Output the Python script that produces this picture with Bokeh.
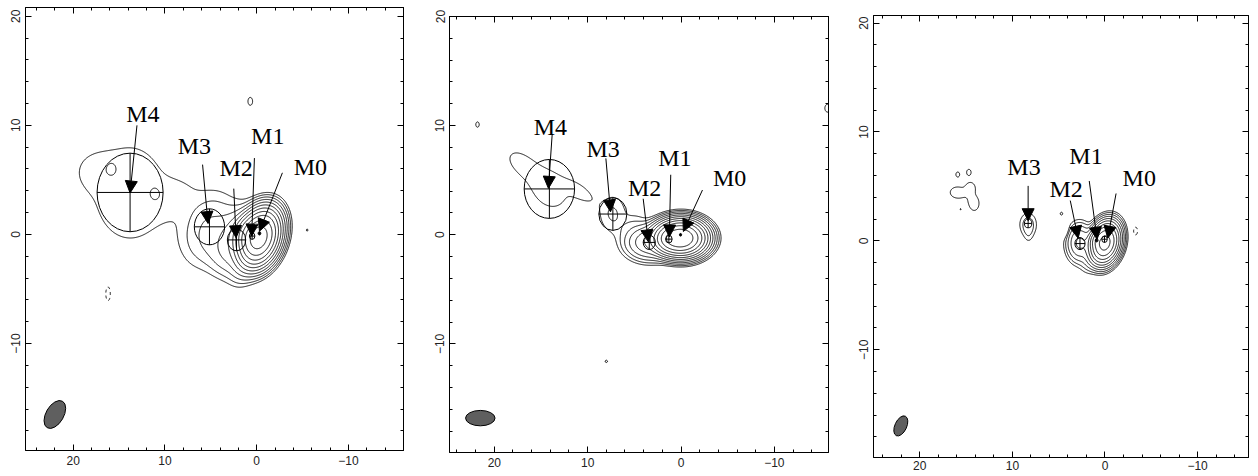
import numpy as np
from bokeh.plotting import figure
from bokeh.layouts import row
from bokeh.models import (Range1d, LinearAxis, SingleIntervalTicker, CustomLabelingPolicy,
                          CustomJSTickFormatter, Arrow, NormalHead, ColumnDataSource)
from bokeh.core.properties import value
from bokeh.embed import file_html
from bokeh.resources import INLINE

# ---------------------------------------------------------------------------
# Emission model of each epoch: elliptical Gaussian blobs (offsets in mas)
# tilt = position of major axis, degrees clockwise from north on the sky plot
# ---------------------------------------------------------------------------
ep1_blob_x = [-0.3, 0.6, 2.2, 5.2, 4.0, 1.2, 13.8, 17.8, 8.8, 15.8, 11.1, 0.7, -5.5, 16.2]
ep1_blob_y = [-0.3, -0.1, -0.6, 0.5, -1.8, -2.5, 3.8, 5.8, 3.4, 6.1, 3.8, 12.2, 0.4, -5.4]
ep1_blob_amp = [1500, 200, 14, 4.3, 1.7, 6.0, 1.7, 0.9, 0.9, 0.75, 0.75, 1.3, 1.05, -1.4]
ep1_blob_smaj = [1.15, 0.8, 1.6, 2.1, 1.6, 1.2, 4.0, 1.5, 1.8, 0.5, 0.5, 0.5, 0.3, 0.9]
ep1_blob_smin = [0.85, 0.8, 1.2, 1.6, 1.0, 0.8, 3.6, 1.2, 1.2, 0.45, 0.45, 0.35, 0.3, 0.35]
ep1_blob_tilt = [30, 0, 30, 30, -60, 30, 0, 90, 70, 0, 0, 0, 0, 0]

ep2_blob_x = [0.0, 1.3, 3.4, 5.3, 7.3, 14.1, 17.5, 10.5, 21.8, 8.0, -15.7]
ep2_blob_y = [-0.3, -0.4, -0.7, 1.0, 1.9, 4.2, 6.8, 3.8, 10.1, -11.6, 11.6]
ep2_blob_amp = [2000, 300, 30, 1.2, 2.2, 1.35, 1.0, 1.05, 1.2, 1.1, 1.3]
ep2_blob_smaj = [1.1, 0.8, 1.3, 1.0, 1.2, 2.4, 1.6, 1.3, 0.4, 0.3, 0.5]
ep2_blob_smin = [0.68, 0.6, 0.8, 0.6, 1.0, 1.9, 1.0, 0.55, 0.3, 0.25, 0.4]
ep2_blob_tilt = [90, 90, 90, 60, 0, -57, -60, -60, 0, 90, 0]

ep3_blob_x = [0.0, 0.9, 2.75, 1.5, 8.3, 8.25, 15.9, 14.7, 16.1, 14.5, 14.1, 15.0, 15.6,
              4.7, -8.3, 4.2, -3.3, 3.1]
ep3_blob_y = [-0.2, 0.0, -0.2, -1.5, 1.5, 0.6, 6.1, 6.3, 4.45, 4.9, 3.4, 4.3, 2.9,
              2.5, -3.3, 0.9, 0.9, 2.7]
ep3_blob_amp = [700, 60, 18, 3.5, 3.0, 1.0, 1.35, 1.4, 1.55, 1.45, 1.55, 0.7, 1.02,
                1.15, 1.02, -1.3, -1.3, -1.1]
ep3_blob_smaj = [0.85, 0.4, 0.9, 0.85, 0.7, 0.6, 0.28, 0.32, 0.6, 0.4, 0.6, 0.8, 0.12,
                 0.25, 0.12, 0.5, 0.5, 0.2]
ep3_blob_smin = [0.65, 0.4, 0.72, 0.55, 0.6, 0.35, 0.25, 0.28, 0.42, 0.4, 0.48, 0.8, 0.12,
                 0.25, 0.12, 0.3, 0.3, 0.2]
ep3_blob_tilt = [25, 0, 0, 25, 0, 0, 0, 0, 90, 0, 0, 0, 0, 0, 0, 0, 0, 0]

# Contour levels (multiples of the lowest level), positive and negative
pos_levels = [1, 2, 4, 8, 16, 32, 64, 128, 256, 512, 1024]
neg_levels = [-1]

# Restoring beams: centre, FWHM minor / major, tilt (deg)
beam_x = [22.0, 21.5, 22.05]
beam_y = [-16.5, -16.8, -17.0]
beam_minor = [1.93, 1.65, 1.27]
beam_major = [2.8, 2.7, 1.97]
beam_tilt = [30, 90, 25]

# Model-fit components: label, centre, radius
ep1_comp = ["M4", "M3", "M2", "M1", "M0"]
ep1_comp_x = [13.8, 5.15, 2.2, 0.5, -0.3]
ep1_comp_y = [3.85, 0.7, -0.5, -0.15, 0.1]
ep1_comp_r = [3.6, 1.65, 1.0, 0.3, 0.15]

ep2_comp = ["M4", "M3", "M2", "M1", "M0"]
ep2_comp_x = [14.1, 7.3, 3.4, 1.3, 0.05]
ep2_comp_y = [4.2, 1.9, -0.7, -0.4, 0.0]
ep2_comp_r = [2.7, 1.5, 0.65, 0.35, 0.12]

ep3_comp = ["M3", "M2", "M1", "M0"]
ep3_comp_x = [8.3, 2.7, 0.9, 0.05]
ep3_comp_y = [1.6, -0.25, 0.05, 0.15]
ep3_comp_r = [0.4, 0.55, 0.15, 0.3]

# Label positions and arrow tails / heads for each component
ep1_label_x = [12.4, 6.8, 2.25, -1.2, -5.85]
ep1_label_y = [11.0, 8.1, 6.1, 9.0, 6.2]
ep1_tail_x = [13.05, 5.9, 2.5, 0.25, -2.8]
ep1_tail_y = [10.0, 6.4, 4.2, 7.0, 5.65]
ep1_head_x = [13.8, 5.3, 2.25, 0.55, -0.3]
ep1_head_y = [3.8, 1.0, -0.3, -0.15, 0.3]

ep2_label_x = [14.0, 8.35, 3.9, 0.65, -5.2]
ep2_label_y = [9.9, 7.9, 4.25, 7.0, 5.2]
ep2_tail_x = [13.8, 8.05, 4.05, 1.1, -2.3]
ep2_tail_y = [9.2, 7.0, 3.3, 5.5, 4.1]
ep2_head_x = [14.2, 7.55, 3.5, 1.25, -0.25]
ep2_head_y = [4.25, 2.1, -0.65, -0.2, 0.3]

ep3_label_x = [8.75, 4.2, 2.05, -3.7]
ep3_label_y = [6.75, 4.75, 7.8, 5.8]
ep3_tail_x = [8.3, 3.75, 1.7, -1.2]
ep3_tail_y = [5.05, 3.7, 5.5, 4.35]
ep3_head_x = [8.3, 2.9, 0.85, -0.3]
ep3_head_y = [1.85, 0.25, 0.15, 0.25]

# Axis ranges (mas, RA increasing to the left) and panel frames
x_ranges = [(25.2, -16.0), (24.8, -15.8), (25.0, -15.5)]
y_ranges = [(-19.8, 20.8), (-19.95, 20.0), (-19.9, 20.7)]
panel_w = [420, 420, 418]
borders = [(25, 17, 7, 26), (29, 12, 16, 24), (33, 10, 15, 19)]  # left, right, top, bottom

TICK_FONT = "Liberation Sans"
LABEL_FONT = "Liberation Serif"

gx = np.arange(-18.0, 28.0, 0.07)
gy = np.arange(-22.0, 23.0, 0.07)
GX, GY = np.meshgrid(gx, gy)


def brightness(bx, by, amp, smaj, smin, tilt):
    z = np.zeros_like(GX)
    for x0, y0, a, s1, s2, t in zip(bx, by, amp, smaj, smin, tilt):
        t = np.radians(t)
        ux, uy = -np.sin(t), np.cos(t)   # major axis (x runs right-to-left)
        vx, vy = np.cos(t), np.sin(t)
        dx, dy = GX - x0, GY - y0
        pa = dx * ux + dy * uy
        pb = dx * vx + dy * vy
        z += a * np.exp(-0.5 * (pa ** 2 / s1 ** 2 + pb ** 2 / s2 ** 2))
    return z


minus_fmt = CustomJSTickFormatter(code="return tick < 0 ? '\\u2212' + Math.abs(tick) : String(tick);")
no_labels = CustomLabelingPolicy(code="for (const i of indices) indices.unset(i)")


def style_axis(ax, show_labels, standoff):
    ax.ticker = SingleIntervalTicker(interval=10, num_minor_ticks=5)
    ax.axis_label = None
    ax.axis_label_standoff = 0
    ax.major_tick_in = 6
    ax.major_tick_out = 0
    ax.minor_tick_in = 3
    ax.minor_tick_out = 0
    ax.axis_line_color = "black"
    ax.major_tick_line_color = "black"
    ax.minor_tick_line_color = "black"
    if show_labels:
        ax.formatter = minus_fmt
        ax.major_label_text_font = TICK_FONT
        ax.major_label_text_font_size = "12px"
        ax.major_label_text_color = "#222222"
        ax.major_label_standoff = standoff
    else:
        ax.major_label_policy = no_labels
        ax.major_label_text_font_size = "1px"
        ax.major_label_standoff = 0


def panel(i, bx, by, amp, smaj, smin, tilt, names, cx, cy, cr,
          lx, ly, tx, ty, hx, hy):
    bl, br, bt, bb = borders[i]
    p = figure(width=panel_w[i], height=476, title=None,
               x_range=Range1d(*x_ranges[i]), y_range=Range1d(*y_ranges[i]),
               output_backend="svg", toolbar_location=None,
               min_border_left=bl, min_border_right=br,
               min_border_top=bt, min_border_bottom=bb)
    p.frame_align = False          # each panel keeps its own frame position
    p.grid.visible = False
    p.outline_line_color = "black"
    p.background_fill_color = "white"
    p.border_fill_color = "white"

    style_axis(p.xaxis[0], True, 5 if i < 2 else 3)
    style_axis(p.yaxis[0], True, 5)
    p.yaxis[0].major_label_orientation = "vertical"
    top = LinearAxis()
    right = LinearAxis()
    style_axis(top, False, 0)
    style_axis(right, False, 0)
    p.add_layout(top, "above")
    p.add_layout(right, "right")

    z = brightness(bx, by, amp, smaj, smin, tilt)
    p.contour(GX, GY, z, pos_levels, line_color="black", line_width=0.9)
    if z.min() < neg_levels[0]:
        p.contour(GX, GY, z, neg_levels, line_color="black", line_width=0.9,
                  line_dash="3 3")

    # restoring beam
    p.ellipse(x=[beam_x[i]], y=[beam_y[i]], width=[beam_minor[i]], height=[beam_major[i]],
              angle=[-np.radians(beam_tilt[i])], fill_color="#5f5f5f",
              line_color="black", line_width=1)

    # model-fit components with crosses
    comp = ColumnDataSource(dict(x=cx, y=cy, d=[2 * r for r in cr],
                                 x0=[a - r for a, r in zip(cx, cr)],
                                 x1=[a + r for a, r in zip(cx, cr)],
                                 y0=[b - r for b, r in zip(cy, cr)],
                                 y1=[b + r for b, r in zip(cy, cr)]))
    p.ellipse(x="x", y="y", width="d", height="d", source=comp,
              fill_color=None, line_color="black", line_width=1)
    p.segment(x0="x0", y0="y", x1="x1", y1="y", source=comp, line_color="black", line_width=1)
    p.segment(x0="x", y0="y0", x1="x", y1="y1", source=comp, line_color="black", line_width=1)

    arrows = ColumnDataSource(dict(xs=tx, ys=ty, xe=hx, ye=hy))
    p.add_layout(Arrow(x_start="xs", y_start="ys", x_end="xe", y_end="ye", source=arrows,
                       line_color="black", line_width=1,
                       end=NormalHead(size=12, fill_color="black", line_color="black",
                                      line_width=1)))

    p.text(x=lx, y=ly, text=names, text_font=value(LABEL_FONT), text_font_size="24px",
           text_align="center", text_baseline="middle", text_color="black")
    return p


p1 = panel(0, ep1_blob_x, ep1_blob_y, ep1_blob_amp, ep1_blob_smaj, ep1_blob_smin, ep1_blob_tilt,
           ep1_comp, ep1_comp_x, ep1_comp_y, ep1_comp_r,
           ep1_label_x, ep1_label_y, ep1_tail_x, ep1_tail_y, ep1_head_x, ep1_head_y)
p2 = panel(1, ep2_blob_x, ep2_blob_y, ep2_blob_amp, ep2_blob_smaj, ep2_blob_smin, ep2_blob_tilt,
           ep2_comp, ep2_comp_x, ep2_comp_y, ep2_comp_r,
           ep2_label_x, ep2_label_y, ep2_tail_x, ep2_tail_y, ep2_head_x, ep2_head_y)
p3 = panel(2, ep3_blob_x, ep3_blob_y, ep3_blob_amp, ep3_blob_smaj, ep3_blob_smin, ep3_blob_tilt,
           ep3_comp, ep3_comp_x, ep3_comp_y, ep3_comp_r,
           ep3_label_x, ep3_label_y, ep3_tail_x, ep3_tail_y, ep3_head_x, ep3_head_y)

layout = row(p1, p2, p3, spacing=0)
open("out.html", "w").write(file_html(layout, INLINE))
